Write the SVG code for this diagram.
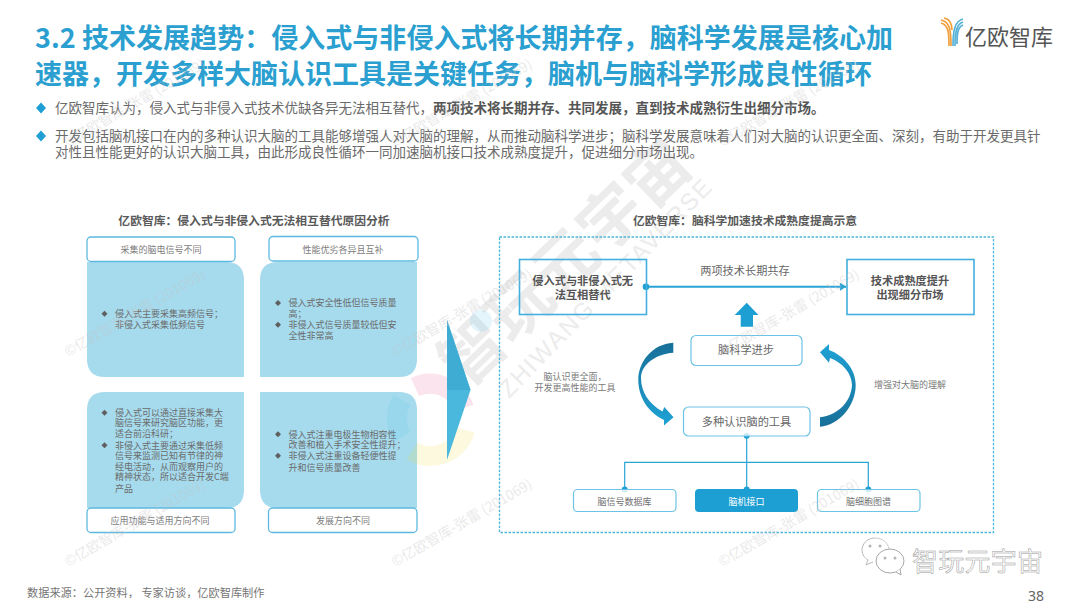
<svg xmlns="http://www.w3.org/2000/svg" width="1080" height="607" viewBox="0 0 1080 607">
<style>
text{font-family:"Noto Sans CJK SC","Noto Sans",sans-serif;fill:#6e6e6e}
.title{font-size:27px;font-weight:700;fill:#2a9fd0}
.body{font-size:13.5px;fill:#6a6a6a}
.b{font-weight:700;fill:#555}
.sub{font-size:11.8px;font-weight:700;fill:#5a5a5a;text-anchor:middle}
.hd{font-size:9px;fill:#7c7c7c;text-anchor:middle}
.p{font-size:9px;fill:#6b6b6b}
.n11{font-size:11.2px;fill:#666;text-anchor:middle}
.nb{font-size:11.2px;font-weight:700;fill:#555;text-anchor:middle}
.n9{font-size:9px;fill:#707070;text-anchor:middle}
.note{font-size:9px;fill:#7a7a7a;text-anchor:middle}
.hbox{fill:#fff;stroke:#5cb9e0;stroke-width:1.3}
.panel{fill:#a6dbee}
.nbox{fill:#fff;fill-opacity:.8;stroke:#6cc3e6;stroke-width:1.2}
.mbox{fill:none;stroke:#42afdd;stroke-width:1.6}
.ln{fill:none;stroke:#2aa3d5;stroke-width:1.2}
.dot{fill:#1e9fd3}
.blt{fill:#5f5f5f}
.wm{font-size:14px;fill:#c4c4c4;fill-opacity:.38}
.big{font-size:64px;font-weight:700;fill:#ececec;text-anchor:middle}
.bige{font-family:"Liberation Sans",sans-serif;font-size:24px;fill:#ececec;text-anchor:middle}
</style>
<defs>
<linearGradient id="gl" x1="0" y1="0" x2="0" y2="1"><stop offset="0" stop-color="#176f98"/><stop offset="1" stop-color="#1fa3d6"/></linearGradient>
<linearGradient id="gr" x1="0" y1="1" x2="0" y2="0"><stop offset="0" stop-color="#176f98"/><stop offset="1" stop-color="#1fa3d6"/></linearGradient>
<marker id="ah" markerUnits="userSpaceOnUse" markerWidth="7" markerHeight="8" refX="6" refY="4" orient="auto"><path d="M0 0L6 4L0 8Z" fill="#2aa3d5"/></marker>
<path id="d" d="M0-3L3 0L0 3L-3 0Z"/>
</defs>
<rect width="1080" height="607" fill="#fff"/>
<g id="big-watermark">
<text class="big" transform="rotate(-44 565 262)" x="565" y="285">智玩元宇宙</text>
<text class="bige" transform="rotate(-45.800 605 288)" x="605" y="296.500" textLength="293">ZHIWANG METAVERSE</text>
</g>
<g id="header">
<text class="title" x="35" y="48" textLength="858">3.2 技术发展趋势：侵入式与非侵入式将长期并存，脑科学发展是核心加</text>
<text class="title" x="35" y="84" textLength="837">速器，开发多样大脑认识工具是关键任务，脑机与脑科学形成良性循环</text>
<path class="dot" d="M41 102.500l5 5.500l-5 5.500l-5-5.500ZM41 130.500l5 5.500l-5 5.500l-5-5.500Z"/>
<text class="body" x="55" y="113">亿欧智库认为，侵入式与非侵入式技术优缺各异无法相互替代，<tspan class="b">两项技术将长期并存、共同发展，直到技术成熟衍生出细分市场。</tspan></text>
<text class="body" x="55" y="141">开发包括脑机接口在内的多种认识大脑的工具能够增强人对大脑的理解，从而推动脑科学进步；脑科学发展意味着人们对大脑的认识更全面、深刻，有助于开发更具针<tspan x="55" y="157">对性且性能更好的认识大脑工具，由此形成良性循环一同加速脑机接口技术成熟度提升，促进细分市场出现。</tspan></text>
</g>
<g id="logo">
<g fill="none" stroke-width="1.700">
<path d="M941 20C950 22 951 30 951 46M941 23C948 25 949 31 949 46" stroke="#f0a03f"/>
<path d="M963 19C955 21 953 30 953 46M963 22C957 24 955 31 955 46M963 25C958 27 957 33 957 44" stroke="#57b2d8"/>
<path d="M944 18C950 19 952 24 952 30" stroke="#f2a03d"/>
</g>
<text x="965" y="45" font-size="22" style="fill:#555" textLength="88">亿欧智库</text>
</g>
<g id="left-title"><text class="sub" x="254" y="225">亿欧智库：侵入式与非侵入式无法相互替代原因分析</text></g>
<g id="panel-tl">
<path class="panel" d="M87 262H226Q244 262 244 280V377H105Q87 377 87 359Z"/>
<rect class="hbox" x="87" y="237" width="148" height="24.500" rx="4"/>
<text class="hd" x="161" y="253">采集的脑电信号不同</text>
<use href="#d" class="blt" x="104.500" y="313.700"/>
<text class="p" x="115" y="317">侵入式主要采集高频信号；<tspan x="115" y="327.500">非侵入式采集低频信号</tspan></text>
</g>
<g id="panel-tr">
<path class="panel" d="M278 262H417V359Q417 377 399 377H260V280Q260 262 278 262Z"/>
<rect class="hbox" x="269" y="236.500" width="149" height="24.500" rx="4"/>
<text class="hd" x="343" y="253">性能优劣各异且互补</text>
<use href="#d" class="blt" x="278" y="303"/><use href="#d" class="blt" x="278" y="324.700"/>
<text class="p" x="288.500" y="306">侵入式安全性低但信号质量<tspan x="288.500" y="316.500">高；</tspan><tspan x="288.500" y="328">非侵入式信号质量较低但安</tspan><tspan x="288.500" y="339">全性非常高</tspan></text>
</g>
<g id="panel-bl">
<path class="panel" d="M105 392H244V490Q244 508 226 508H87V410Q87 392 105 392Z"/>
<rect class="hbox" x="87" y="508" width="148" height="24.500" rx="4"/>
<text class="hd" x="160" y="523.500">应用功能与适用方向不同</text>
<use href="#d" class="blt" x="104.500" y="412.700"/><use href="#d" class="blt" x="104.500" y="445.300"/>
<text class="p" x="115" y="416">侵入式可以通过直接采集大<tspan x="115" y="426">脑信号来研究脑区功能，更</tspan><tspan x="115" y="437">适合前沿科研；</tspan><tspan x="115" y="448.500">非侵入式主要通过采集低频</tspan><tspan x="115" y="459">信号来监测已知有节律的神</tspan><tspan x="115" y="470">经电活动，从而观察用户的</tspan><tspan x="115" y="480">精神状态，所以适合开发C端</tspan><tspan x="115" y="491.500">产品</tspan></text>
</g>
<g id="panel-br">
<path class="panel" d="M260 392H399Q417 392 417 410V508H278Q260 508 260 490Z"/>
<rect class="hbox" x="268.500" y="508" width="148.500" height="24.500" rx="4"/>
<text class="hd" x="343" y="523.500">发展方向不同</text>
<use href="#d" class="blt" x="278" y="434.300"/><use href="#d" class="blt" x="278" y="455.700"/>
<text class="p" x="288.500" y="437.500">侵入式注重电极生物相容性<tspan x="288.500" y="447.500">改善和植入手术安全性提升；</tspan><tspan x="288.500" y="459">非侵入式注重设备轻便性提</tspan><tspan x="288.500" y="470.500">升和信号质量改善</tspan></text>
</g>
<g id="pinwheel" fill="none" stroke-width="20" opacity=".16">
<path d="M415 387A36 36 0 0 1 464 408" stroke="#ee5f9f"/>
<path d="M465 430A36 36 0 0 1 412 451" stroke="#f5dc3a"/>
<path d="M402 437A36 36 0 0 1 402 400" stroke="#5cc8ea"/>
<circle cx="481" cy="321" r="11" fill="#5cc8ea" stroke="none"/>
</g>
<g id="chevron">
<path d="M447 320L470.500 390L447 460Z" fill="#4ab8dc"/>
<path d="M447 320L470.500 390L447 390Z" fill="#3eacd3"/>
</g>
<g id="right-title"><text class="sub" x="745" y="225">亿欧智库：脑科学加速技术成熟度提高示意</text></g>
<rect id="dashed-frame" x="499.500" y="237" width="494" height="295.500" fill="none" stroke="#4db5e0" stroke-width="1.300" stroke-dasharray="2.500 1.500"/>
<g id="connectors">
<path class="ln" style="stroke-width:2" d="M646 286.700H846" marker-end="url(#ah)"/>
<circle class="dot" cx="646" cy="286.700" r="3.300"/>
<path class="ln" d="M746.700 435.700V489M624.700 489V462.300H868.300V489"/>
<circle class="dot" cx="746.700" cy="435.700" r="3"/>
<circle class="dot" cx="624.700" cy="489.500" r="3"/>
<circle class="dot" cx="746.700" cy="489.500" r="3"/>
<circle class="dot" cx="868.300" cy="489.500" r="3"/>
<path class="dot" d="M746.700 302.700L758.500 315H753V326.700H740.700V315H734.700Z"/>
<path fill="url(#gl)" d="M673.300 342.700C652 344 638.300 362 638.300 380C638.300 398 649 413 664 420L664 425.500L673.500 417.300L664.300 407L662.500 411.500C649 404 641 392 641 378C641 365 655 354 673.300 352.700Z"/>
<path fill="url(#gr)" d="M820 426.700C840 425 855.700 405 855.700 385C855.700 370 845 356 829 350L829 344L820 352.300L829 362.700L830 358C843 363 851.500 373 852 385C851 402 838 415 820 417.300Z"/>
</g>
<text class="note" x="575" y="380">脑认识更全面，<tspan x="575" y="390.500">开发更高性能的工具</tspan></text>
<text class="note" x="910" y="387.500">增强对大脑的理解</text>
<text class="n11" x="745" y="275">两项技术长期共存</text>
<g id="node-a"><rect class="mbox" x="519.500" y="259.500" width="127" height="55"/>
<text class="nb" x="582.700" y="285">侵入式与非侵入式无<tspan x="582.700" y="298.500">法互相替代</tspan></text></g>
<g id="node-b"><rect class="mbox" x="847" y="259.500" width="127" height="55"/>
<text class="nb" x="910" y="285">技术成熟度提升<tspan x="910" y="298.500">出现细分市场</tspan></text></g>
<g id="node-science"><rect class="nbox" x="691" y="335.500" width="111" height="30" rx="5"/>
<text class="n11" x="746" y="354">脑科学进步</text></g>
<g id="node-tools"><rect class="nbox" x="683.500" y="407" width="126.500" height="29" rx="5"/>
<text class="n11" x="746.500" y="426">多种认识脑的工具</text></g>
<g id="node-db"><rect class="nbox" x="573.500" y="489.500" width="102.500" height="22" rx="4"/>
<text class="n9" x="624.500" y="504.500">脑信号数据库</text></g>
<g id="node-bci"><rect x="695" y="489" width="103" height="23" rx="4" fill="#1e9fd3"/>
<text class="n9" x="746.500" y="504.500" style="fill:#fff">脑机接口</text></g>
<g id="node-atlas"><rect class="nbox" x="817.500" y="489.500" width="102.500" height="22" rx="4"/>
<text class="n9" x="868.500" y="504.500">脑细胞图谱</text></g>
<g id="small-watermarks">
<text class="wm" transform="rotate(-30 68 147)" x="68" y="147">©亿欧智库-张雷 (201069)</text>
<text class="wm" transform="rotate(-30 395 147)" x="395" y="147">©亿欧智库-张雷 (201069)</text>
<text class="wm" transform="rotate(-30 722 147)" x="722" y="147">©亿欧智库-张雷 (201069)</text>
<text class="wm" transform="rotate(-30 68 357)" x="68" y="357">©亿欧智库-张雷 (201069)</text>
<text class="wm" transform="rotate(-30 395 357)" x="395" y="357">©亿欧智库-张雷 (201069)</text>
<text class="wm" transform="rotate(-30 722 357)" x="722" y="357">©亿欧智库-张雷 (201069)</text>
<text class="wm" transform="rotate(-30 68 567)" x="68" y="567">©亿欧智库-张雷 (201069)</text>
<text class="wm" transform="rotate(-30 395 567)" x="395" y="567">©亿欧智库-张雷 (201069)</text>
<text class="wm" transform="rotate(-30 722 567)" x="722" y="567">©亿欧智库-张雷 (201069)</text>
</g>
<g id="wechat-mark">
<path d="M875 538C866 538 862 545 862 550C862 555 865 558 868 560L866 565L873 562" fill="#fff" stroke="#bbb" stroke-width="1"/>
<path d="M875 538C883 538 888 543 889 549" fill="none" stroke="#ccc" stroke-width="1"/>
<ellipse cx="890" cy="561" rx="14" ry="12" fill="#fff" stroke="#a8a8a8" stroke-width="1"/>
<path d="M896 572L901 575L900 569" fill="#fff" stroke="#a8a8a8" stroke-width="1"/>
<g fill="#b5b5b5"><circle cx="870" cy="546" r="1.500"/><circle cx="880" cy="546" r="1.500"/><circle cx="885" cy="558" r="1.500"/><circle cx="895" cy="558" r="1.500"/></g>
<text x="912" y="571" font-size="26" textLength="131" style="fill:#fdfdfd;stroke:#9a9a9a;stroke-width:.5">智玩元宇宙</text>
</g>
<g id="footer">
<text x="27" y="597" font-size="11.200" style="fill:#757575">数据来源：公开资料， 专家访谈，亿欧智库制作</text>
<text x="1028" y="601" font-size="14" style="font-family:'Noto Sans',sans-serif;fill:#666">38</text>
</g>
</svg>
